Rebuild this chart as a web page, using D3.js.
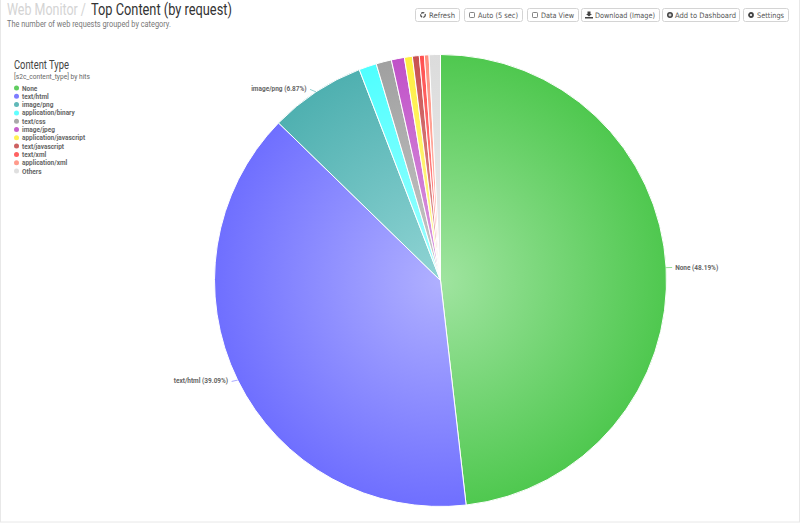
<!DOCTYPE html>
<html><head><meta charset="utf-8">
<script src="https://cdn.jsdelivr.net/npm/d3@7/dist/d3.min.js"></script>
<style>html,body{margin:0;padding:0;background:#fff;overflow:hidden}svg{display:block}text{font-family:Roboto,sans-serif}</style>
</head><body><svg id="c" width="800" height="523"></svg>
<script>
const categories=["None","text/html","image/png","application/binary","text/css","image/jpeg","application/javascript","text/javascript","text/xml","application/xml","Others"];
const shares=[48.19,39.09,6.87,1.26,1.10,0.93,0.57,0.49,0.36,0.33,0.81];
const edgeColors=["#4fc84f","#6f6fff","#4fb0b0","#4fffff","#a0a0a0","#c050c8","#ffef40","#c85050","#ff5050","#ff9080","#dcdcdc"];
const innerColors=["#a0e4a0","#b0b0ff","#90d4d4","#a0ffff","#c8c8c8","#dca0e0","#fff8a0","#e0a0a0","#ffa0a0","#ffc8c0","#ececec"];
const labelled=["None","text/html","image/png"];
const buttons=["Refresh","Auto (5 sec)","Data View","Download (Image)","Add to Dashboard","Settings"];

const svg=d3.select("#c");
const W=800,H=523,cx=440.5,cy=280.5,R=226,narrow=0.81;
svg.append("rect").attr("x",0.5).attr("y",-2).attr("width",W-1).attr("height",H+1).attr("fill","#fff").attr("stroke","#e8e8e8");
// horizontal condensing by transform, so the drawn box equals the drawn width
const squeeze=(sel,x,y,width)=>sel.attr("x",0).attr("y",0).each(function(){
  d3.select(this).attr("transform",`translate(${x},${y}) scale(${width/this.getComputedTextLength()},1)`);});
const fit=(sel,k)=>sel.each(function(){d3.select(this).attr("textLength",this.getComputedTextLength()*k).attr("lengthAdjust","spacingAndGlyphs");});
const defs=svg.append("defs");
categories.forEach((c,i)=>{
  const g=defs.append("radialGradient").attr("id","g"+i).attr("gradientUnits","userSpaceOnUse").attr("cx",0).attr("cy",0).attr("r",R);
  g.append("stop").attr("offset","0").attr("stop-color",innerColors[i]);
  g.append("stop").attr("offset","1").attr("stop-color",edgeColors[i]);
});
const data=categories.map((c,i)=>({c,v:shares[i],i}));
const pie=d3.pie().value(d=>d.v).sort(null);
const arc=d3.arc().innerRadius(0).outerRadius(R);
const gp=svg.append("g").attr("transform",`translate(${cx},${cy})`);
const arcs=pie(data);
gp.selectAll("path").data(arcs).join("path").attr("d",arc).attr("fill",d=>`url(#g${d.data.i})`).attr("stroke","#fff").attr("stroke-width",1);
arcs.filter(d=>labelled.includes(d.data.c)).forEach(d=>{
  const a=(d.startAngle+d.endAngle)/2, s=Math.sin(a), c=-Math.cos(a), right=s>0;
  const x1=s*R,y1=c*R,x2=x1+(right?6:-6),y2=y1+c*3;
  gp.append("line").attr("x1",x1).attr("y1",y1).attr("x2",x2).attr("y2",y2).attr("stroke",edgeColors[d.data.i]).attr("stroke-opacity",.6);
  gp.append("text").attr("x",x2+(right?3:-3.5)).attr("y",y2+2).attr("text-anchor",right?"start":"end")
    .attr("font-size",8).attr("font-weight",700).attr("fill","#666")
    .text(`${d.data.c} (${d.data.v.toFixed(2)}%)`).call(fit,narrow);
});
// Title
svg.append("text").attr("font-size",16).attr("fill","#d4d4d4").text("Web Monitor /").call(squeeze,7,15,79);
svg.append("text").attr("font-size",16).attr("fill","#333").text("Top Content (by request)").call(squeeze,91,15,141);
svg.append("text").attr("font-size",9).attr("fill","#777").text("The number of web requests grouped by category.").call(squeeze,7,26.5,164);
// Legend
svg.append("text").attr("font-size",12).attr("fill","#444").text("Content Type").call(squeeze,14,69,55);
svg.append("text").attr("font-size",7.5).attr("fill","#666").text("[s2c_content_type] by hits").call(squeeze,14,78.5,76);
const ly=d3.scalePoint().domain(categories).range([88,171]);
const lg=svg.append("g").selectAll("g").data(data).join("g").attr("transform",d=>`translate(0,${ly(d.c)})`);
lg.append("circle").attr("cx",16.5).attr("r",2.5).attr("fill",d=>edgeColors[d.i]).attr("fill-opacity",.9);
lg.append("text").attr("x",22).attr("y",2.5).attr("font-size",8).attr("font-weight",700).attr("fill","#666").text(d=>d.c).call(fit,narrow);
// Buttons
const bx=[415,464,527,581,662,743], bw=[45,59,52,79,78,46], tw=[26,40,33,60,61,27];
const bg=svg.append("g").selectAll("g").data(buttons).join("g").attr("transform",(d,i)=>`translate(${bx[i]},8)`);
bg.append("rect").attr("x",.5).attr("y",.5).attr("width",(d,i)=>bw[i]-1).attr("height",13).attr("rx",2).attr("fill","#fff").attr("stroke","#d4d4d4");
bg.each(function(d,i){
  const g=d3.select(this),ix=8,iy=7;
  if(i==0){g.append("circle").attr("cx",ix).attr("cy",iy).attr("r",2.3).attr("fill","none").attr("stroke","#444").attr("stroke-width",1.2).attr("stroke-dasharray","3 1");}
  if(i==1||i==2){g.append("rect").attr("x",5.5).attr("y",4.5).attr("width",5).attr("height",5).attr("rx",.8).attr("fill","none").attr("stroke","#666").attr("stroke-width",.8);}
  if(i==3){g.append("path").attr("d","M6.5 3.5h3v2.5h1.5l-3 2.5l-3-2.5h1.5zM4 9h8v1.5h-8z").attr("fill","#444");}
  if(i==4){g.append("circle").attr("cx",ix).attr("cy",iy).attr("r",3).attr("fill","#444");g.append("path").attr("d","M6.5 7h3M8 5.5v3").attr("stroke","#fff");}
  if(i==5){g.append("circle").attr("cx",ix).attr("cy",iy).attr("r",2).attr("fill","none").attr("stroke","#444").attr("stroke-width",1.8);}
});
bg.append("text").attr("x",(d,i)=>i==4?13:14).attr("y",9.7).attr("font-size",7.5).attr("fill","#555").style("font-family","'DejaVu Sans'")
  .attr("textLength",(d,i)=>tw[i]).attr("lengthAdjust","spacingAndGlyphs").text(d=>d);
</script></body></html>
